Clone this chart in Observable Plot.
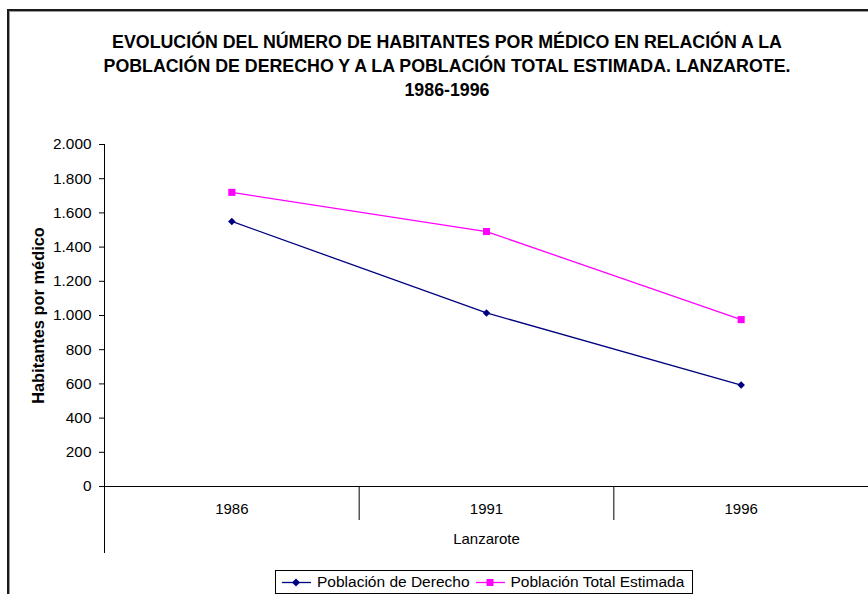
<!DOCTYPE html>
<html><head><meta charset="utf-8">
<script src="https://cdn.jsdelivr.net/npm/d3@7"></script>
<script src="https://cdn.jsdelivr.net/npm/@observablehq/plot@0.6"></script>
<style>
body{margin:0;background:#fff;font-family:"Liberation Sans",Arial,sans-serif;}
#wrap{position:relative;width:868px;height:594px;overflow:hidden;background:#fff;}
#frame{position:absolute;left:7px;top:9px;width:900px;height:700px;border-left:2px solid #1a1a1a;border-top:2px solid #1a1a1a;box-shadow:inset 1px 1px 0 #9a9a9a;}
#title{position:absolute;left:0;top:30px;width:894px;text-align:center;font-weight:bold;font-size:17.8px;line-height:24px;color:#000;}
#chart{position:absolute;left:0;top:0;}
#legend{position:absolute;left:275px;top:570px;width:416px;height:22px;border:1px solid #000;background:#fff;font-size:15.5px;color:#000;display:flex;align-items:center;white-space:nowrap;}
#legend .item{display:flex;align-items:center;margin-left:6px;}
#legend svg{margin-right:6px;}
</style>
</head><body>
<div id="wrap">
  <div id="frame"></div>
  <div id="title"></div>
  <div id="chart"></div>
  <div id="legend"></div>
</div>
<script>
const titleLines = [
  "EVOLUCIÓN DEL NÚMERO DE HABITANTES POR MÉDICO EN RELACIÓN A LA",
  "POBLACIÓN DE DERECHO Y A LA POBLACIÓN TOTAL ESTIMADA. LANZAROTE.",
  "1986-1996"
];
const years = ["1986", "1991", "1996"];
const seriesNames = ["Población de Derecho", "Población Total Estimada"];
const derecho = [1550, 1015, 593];
const totalEstimada = [1720, 1491, 976];
const yTicks = [0, 200, 400, 600, 800, 1000, 1200, 1400, 1600, 1800, 2000];
const yLabel = "Habitantes por médico";
const xGroupLabel = "Lanzarote";
const colors = ["#000080", "#FF00FF"];

document.getElementById("title").innerHTML = titleLines.join("<br>");

const es = d3.formatLocale({decimal: ",", thousands: ".", grouping: [3], currency: ["", " €"]});
const fmt = es.format(",d");

const rows = [];
years.forEach((yr, i) => {
  rows.push({i, year: yr, v: derecho[i], s: seriesNames[0]});
  rows.push({i, year: yr, v: totalEstimada[i], s: seriesNames[1]});
});
const idx = years.map((_, i) => i);
const bounds = years.map((_, i) => i - 0.5).concat([years.length - 0.5]);
const innerBounds = bounds.slice(1, -1);
const outerBounds = [bounds[0], bounds[bounds.length - 1]];

const chart = Plot.plot({
  width: 868,
  height: 594,
  marginLeft: 104,
  marginRight: 0,
  marginTop: 144,
  marginBottom: 108,
  style: {fontFamily: '"Liberation Sans", Arial, sans-serif', fontSize: "15px", background: "transparent", color: "#000", overflow: "visible"},
  x: {type: "linear", domain: [-0.5, years.length - 0.5]},
  y: {domain: [0, 2000]},
  color: {domain: seriesNames, range: colors},
  marks: [
    Plot.axisY({ticks: yTicks, tickFormat: fmt, tickSize: 5, tickPadding: 8, label: null, stroke: "#000", fontSize: 15.4}),
    Plot.axisX({ticks: idx, tickFormat: i => years[i], tickSize: 0, tickPadding: 17, label: null, fontSize: 15}),
    Plot.ruleY([0], {stroke: "#000"}),
    Plot.ruleX(outerBounds, {stroke: "#000", insetBottom: -67}),
    Plot.ruleX(innerBounds, {y1: 0, y2: 0, stroke: "#000", insetBottom: -34}),
    Plot.text([xGroupLabel], {frameAnchor: "bottom", dy: 57, fontSize: 15}),
    Plot.text([yLabel], {frameAnchor: "left", textAnchor: "middle", dx: -66, rotate: -90, fontWeight: "bold", fontSize: 16.4}),
    Plot.line(rows, {x: "i", y: "v", z: "s", stroke: "s", strokeWidth: 1.3}),
    Plot.dot(rows.filter(d => d.s === seriesNames[0]), {x: "i", y: "v", symbol: "diamond2", fill: "s", stroke: "none", r: 3.4}),
    Plot.dot(rows.filter(d => d.s === seriesNames[1]), {x: "i", y: "v", symbol: "square", fill: "s", stroke: "none", r: 4})
  ]
});
document.getElementById("chart").appendChild(chart);

// legend
const leg = document.getElementById("legend");
const shapes = [
  c => `<path d="M14,7.5 L18,11.5 L14,15.5 L10,11.5 Z" fill="${c}"/>`,
  c => `<rect x="10.5" y="8" width="7" height="7" fill="${c}"/>`
];
seriesNames.forEach((name, k) => {
  const item = document.createElement("span");
  item.className = "item";
  item.innerHTML = `<svg width="29" height="22"><line x1="0" x2="29" y1="11.5" y2="11.5" stroke="${colors[k]}" stroke-width="1.3"/>${shapes[k](colors[k])}</svg><span>${name}</span>`;
  leg.appendChild(item);
});
</script>
</body></html>
